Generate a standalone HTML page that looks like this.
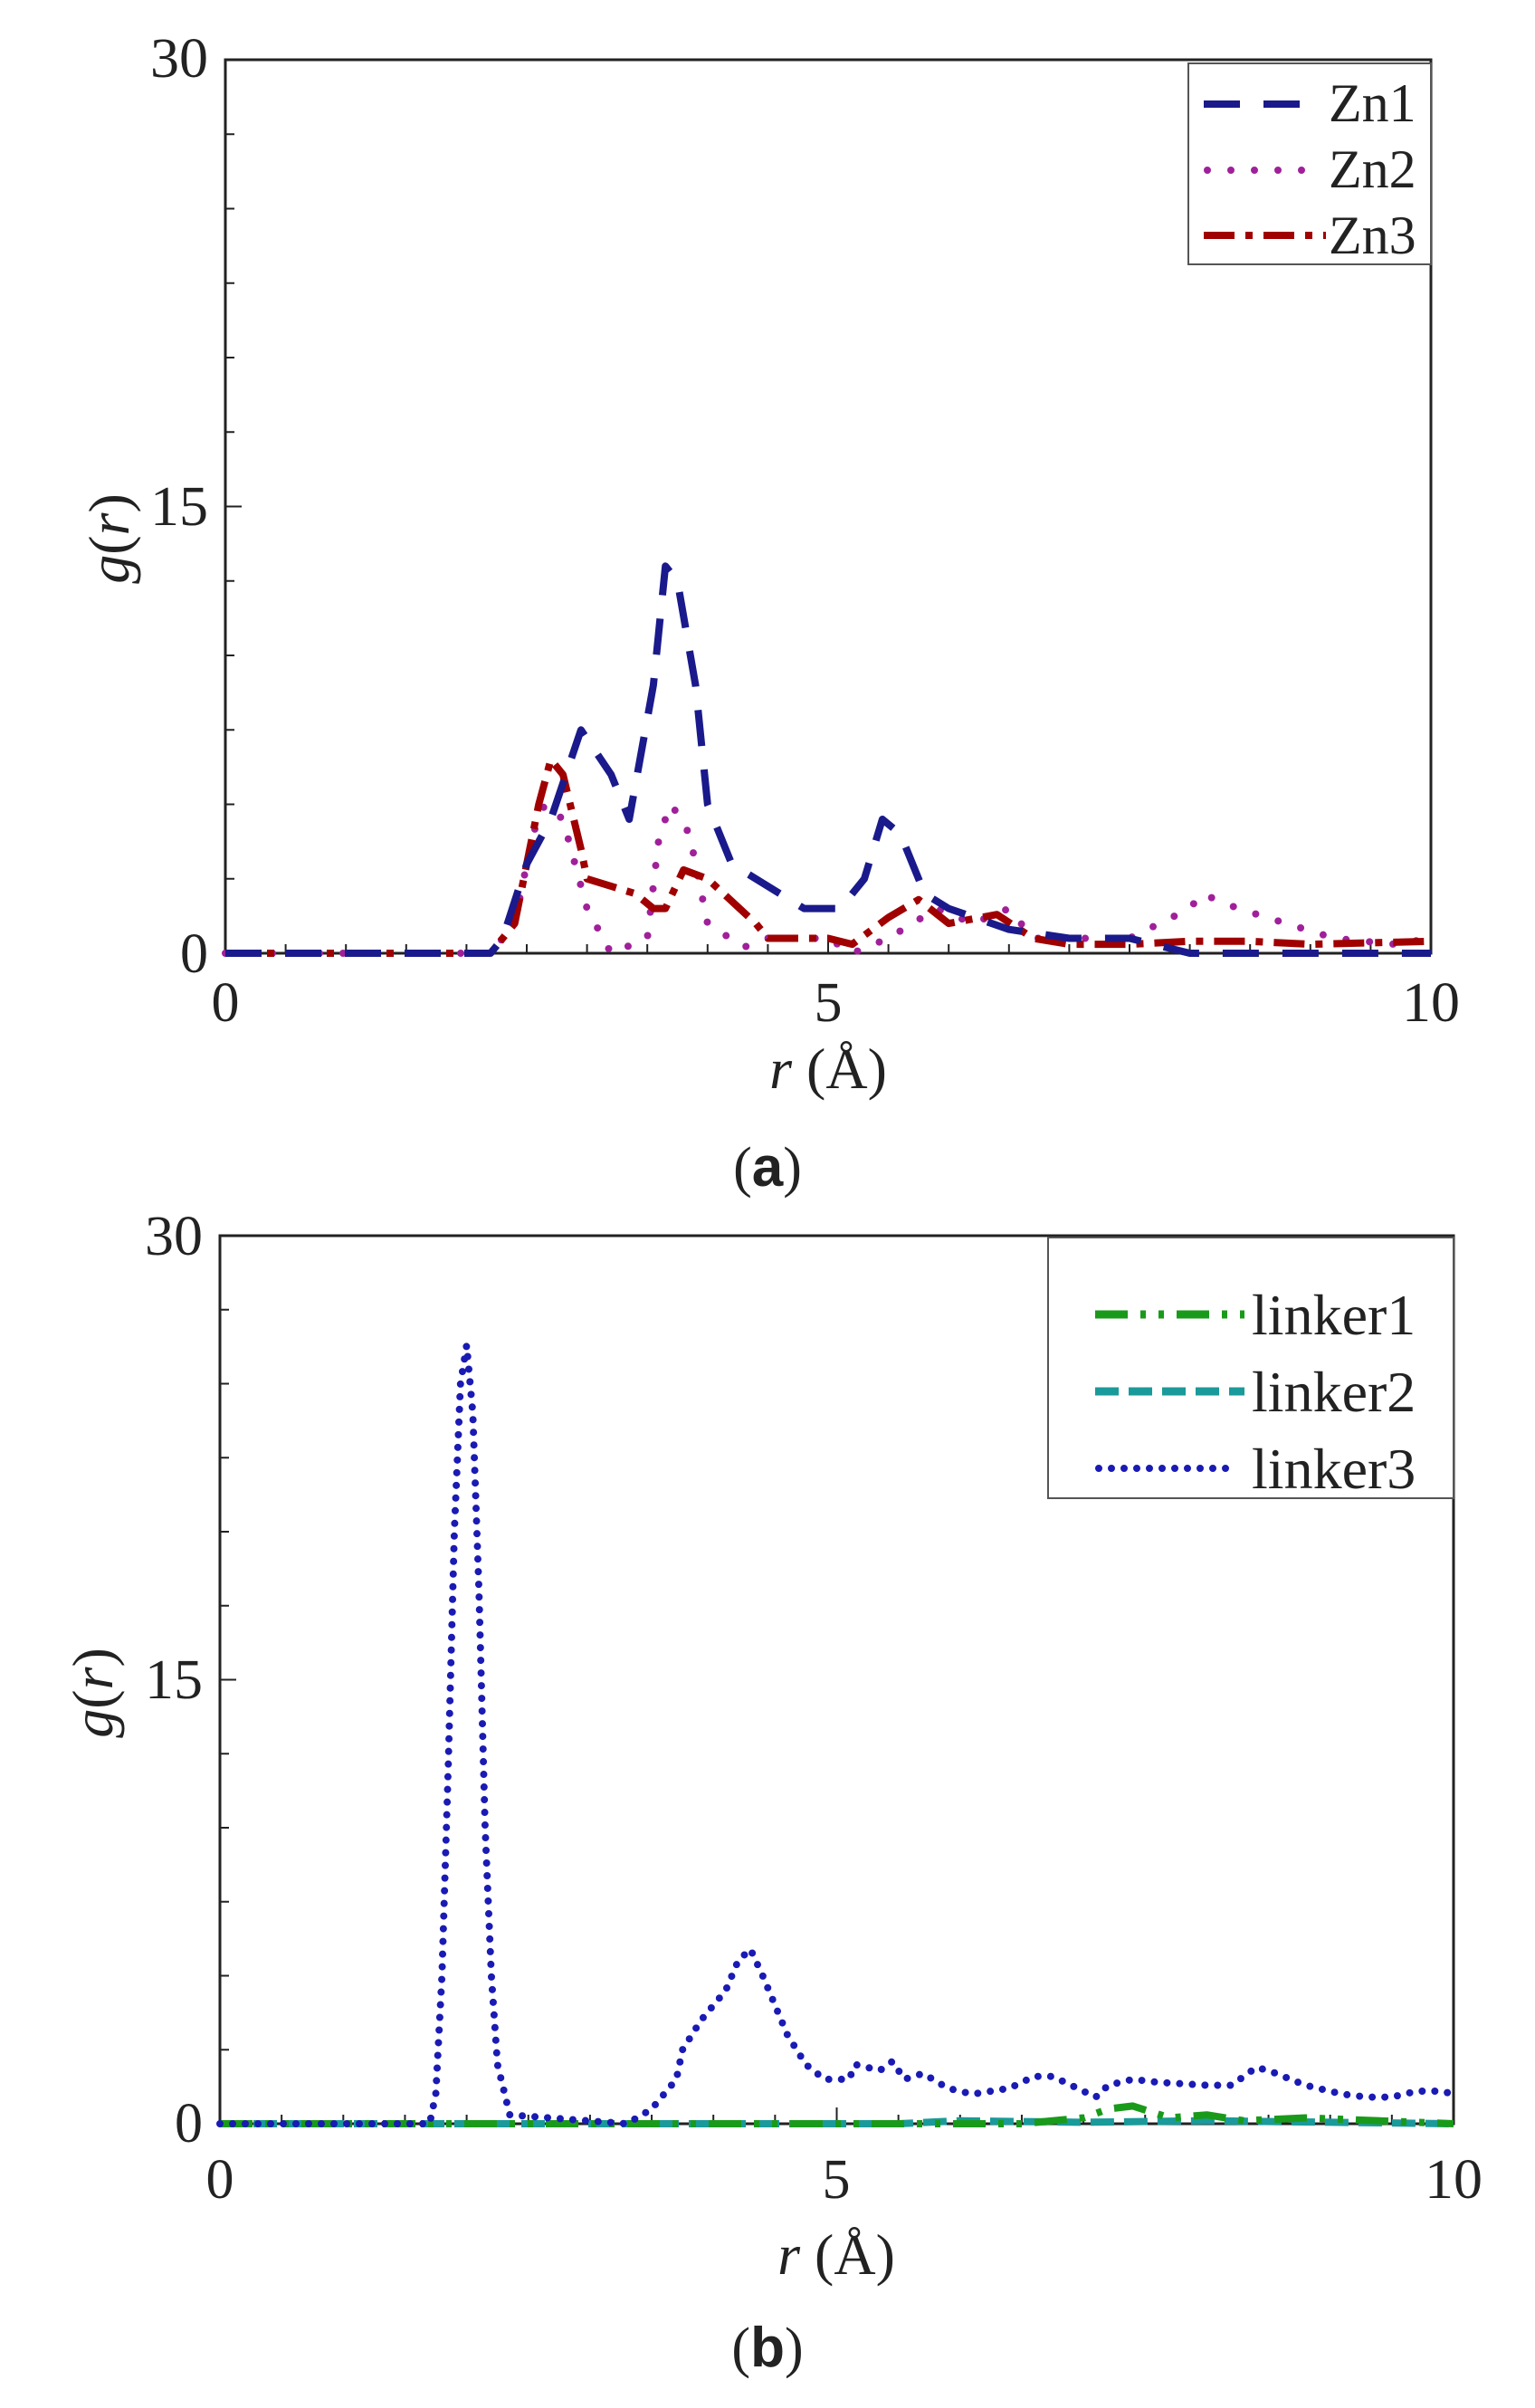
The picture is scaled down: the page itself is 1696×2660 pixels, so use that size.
<!DOCTYPE html>
<html><head><meta charset="utf-8"><style>
html,body{margin:0;padding:0;background:#fff;}
svg{display:block;}
text{font-family:"Liberation Serif",serif;fill:#222;}
</style></head><body>
<svg id="s" width="1696" height="2660" viewBox="0 0 1696 2660" xmlns="http://www.w3.org/2000/svg">
<g id="a"></g>
<text x="230" y="85" font-size="62" text-anchor="end" textLength="64" lengthAdjust="spacingAndGlyphs">30</text>
<text x="230" y="580" font-size="62" text-anchor="end" textLength="64" lengthAdjust="spacingAndGlyphs">15</text>
<text x="230" y="1074" font-size="62" text-anchor="end">0</text>
<text x="249" y="1128" font-size="62" text-anchor="middle">0</text>
<text x="915" y="1128" font-size="62" text-anchor="middle">5</text>
<text x="1581" y="1128" font-size="62" text-anchor="middle" textLength="64" lengthAdjust="spacingAndGlyphs">10</text>
<text transform="translate(142,595) rotate(-90)" font-size="64" text-anchor="middle"><tspan font-style="italic">g</tspan>(<tspan font-style="italic">r</tspan>)</text>
<text x="915" y="1202" font-size="64" text-anchor="middle"><tspan font-style="italic">r</tspan> (Å)</text>
<text x="848" y="1310" font-size="62" text-anchor="middle">(<tspan font-weight="bold" style="font-family:'Liberation Sans',sans-serif">a</tspan>)</text>
<text x="224" y="1386" font-size="62" text-anchor="end" textLength="64" lengthAdjust="spacingAndGlyphs">30</text>
<text x="224" y="1876" font-size="62" text-anchor="end" textLength="64" lengthAdjust="spacingAndGlyphs">15</text>
<text x="224" y="2366" font-size="62" text-anchor="end">0</text>
<text x="243" y="2428" font-size="62" text-anchor="middle">0</text>
<text x="924" y="2428" font-size="62" text-anchor="middle">5</text>
<text x="1606" y="2428" font-size="62" text-anchor="middle" textLength="64" lengthAdjust="spacingAndGlyphs">10</text>
<text transform="translate(124,1870) rotate(-90)" font-size="64" text-anchor="middle"><tspan font-style="italic">g</tspan>(<tspan font-style="italic">r</tspan>)</text>
<text x="924" y="2512" font-size="64" text-anchor="middle"><tspan font-style="italic">r</tspan> (Å)</text>
<text x="848" y="2614" font-size="62" text-anchor="middle">(<tspan font-weight="bold" style="font-family:'Liberation Sans',sans-serif">b</tspan>)</text>
<rect x="1313" y="70" width="268" height="222" fill="#fff" stroke="#555" stroke-width="2"/>
<line x1="1330" y1="115" x2="1460" y2="115" stroke="#1a1a8c" stroke-width="8" stroke-dasharray="40,26"/>
<line x1="1334" y1="188" x2="1460" y2="188" stroke="#a0209a" stroke-width="8" stroke-linecap="round" stroke-dasharray="0,26"/>
<line x1="1330" y1="260" x2="1465" y2="260" stroke="#a00000" stroke-width="8" stroke-dasharray="34,12,8,12"/>
<text x="1468" y="134" font-size="60">Zn1</text>
<text x="1468" y="207" font-size="60">Zn2</text>
<text x="1468" y="280" font-size="60">Zn3</text>
<rect x="1158" y="1367" width="448" height="288" fill="#fff" stroke="#555" stroke-width="2"/>
<line x1="1210" y1="1452" x2="1375" y2="1452" stroke="#1a9a1a" stroke-width="9" stroke-dasharray="36,14,6,14,6,14"/>
<line x1="1210" y1="1537" x2="1375" y2="1537" stroke="#1a9a9a" stroke-width="9" stroke-dasharray="26,11"/>
<line x1="1214" y1="1622" x2="1365" y2="1622" stroke="#1a1ab4" stroke-width="8" stroke-linecap="round" stroke-dasharray="0,14"/>
<text x="1383" y="1474" font-size="64">linker1</text>
<text x="1383" y="1559" font-size="64">linker2</text>
<text x="1383" y="1644" font-size="64">linker3</text>
</svg>
<script>
var NS="http://www.w3.org/2000/svg",g=document.getElementById('a');
function el(t,at){var e=document.createElementNS(NS,t);for(var k in at)e.setAttribute(k,at[k]);g.appendChild(e);return e;}
function plot(P,series){
 var X=function(r){return P.x0+(P.x1-P.x0)*r/10},Y=function(v){return P.y0-(P.y0-P.y1)*v/30};
 el('rect',{x:P.x0,y:P.y1,width:P.x1-P.x0,height:P.y0-P.y1,fill:'none',stroke:'#222','stroke-width':3});
 for(var i=0;i<=20;i++){var x=X(i*0.5);var L=i%10==0?18:10;el('line',{x1:x,y1:P.y0,x2:x,y2:P.y0-L,stroke:'#222','stroke-width':2});}
 for(var i=0;i<=12;i++){var y=Y(i*2.5);var L=i%6==0?18:10;el('line',{x1:P.x0,y1:y,x2:P.x0+L,y2:y,stroke:'#222','stroke-width':2});}
 series.forEach(function(s){
  var d=s.pts.map(function(p,i){return (i?'L':'M')+X(p[0]).toFixed(1)+','+Y(p[1]).toFixed(1)}).join('');
  el('path',{d:d,fill:'none',stroke:s.c,'stroke-width':s.w,'stroke-dasharray':s.da,'stroke-linecap':s.cap||'butt','stroke-linejoin':'round'});
 });
}
plot({x0:249,x1:1581,y0:1053,y1:66},[
 {c:'#a0209a',w:8,cap:'round',da:'0,26',pts:[[0,0],[2.2,0],[2.4,1],[2.55,4],[2.65,5],[2.8,4.5],[3.0,1.5],[3.2,0],[3.5,0.5],[3.6,4],[3.7,5],[3.85,4],[4.0,1],[4.3,0.2],[4.5,0.5],[5,0.5],[5.2,0],[5.5,0.5],[5.9,1.5],[6.2,1],[6.5,1.5],[6.7,0.5],[7.5,0.5],[8,1.5],[8.1,2],[8.4,1.5],[8.8,1],[9.2,0.5],[9.7,0.3],[10,0.5]]},
 {c:'#a00000',w:8,da:'34,12,8,12',pts:[[0,0],[2.2,0],[2.4,1],[2.6,5],[2.7,6.5],[2.8,6],[2.95,3.5],[3.0,2.5],[3.4,2],[3.55,1.5],[3.65,1.5],[3.8,2.8],[4.0,2.5],[4.4,1],[4.5,0.5],[5,0.5],[5.2,0.3],[5.5,1.2],[5.75,1.8],[6,1],[6.4,1.3],[6.7,0.5],[7,0.3],[7.5,0.3],[8,0.4],[8.5,0.4],[9,0.3],[10,0.4]]},
 {c:'#1a1a8c',w:8,da:'40,26',pts:[[0,0],[2.2,0],[2.3,0.5],[2.5,3],[2.7,4.5],[2.95,7.5],[3.2,6],[3.35,4.5],[3.55,9],[3.65,13],[3.75,12.5],[3.9,9],[4.0,5],[4.2,3],[4.6,2],[4.8,1.5],[5.1,1.5],[5.3,2.5],[5.45,4.5],[5.6,4],[5.8,2],[6,1.5],[6.5,0.8],[7,0.5],[7.5,0.5],[8,0],[9,0],[10,0]]}
]);
plot({x0:243,x1:1606,y0:2346,y1:1365},[
 {c:'#1a9a9a',w:8,da:'26,11',pts:[[0,0],[5.5,0],[6,0.1],[7,0.05],[8,0.1],[10,0]]},
 {c:'#1a9a1a',w:8,da:'36,14,6,14,6,14',pts:[[0,0],[6.5,0],[7,0.2],[7.2,0.5],[7.4,0.6],[7.7,0.2],[8,0.3],[8.3,0.1],[8.8,0.2],[10,0]]},
 {c:'#1a1ab4',w:8,cap:'round',da:'0,14',pts:[[0,0],[1.7,0],[1.75,1],[1.8,5],[1.85,12],[1.9,20],[1.95,25],[2.0,26.3],[2.05,24],[2.1,18],[2.15,10],[2.2,5],[2.25,2],[2.35,0.3],[3.3,0],[3.5,0.5],[3.7,1.5],[3.75,2.5],[3.9,3.5],[4.1,4.5],[4.2,5.5],[4.3,5.9],[4.4,5],[4.6,3],[4.75,2],[4.9,1.5],[5.1,1.5],[5.15,2],[5.35,1.8],[5.45,2.1],[5.55,1.5],[5.7,1.7],[5.9,1.2],[6.1,1],[6.4,1.2],[6.6,1.6],[6.75,1.6],[6.9,1.3],[7.1,0.9],[7.2,1.3],[7.4,1.5],[7.6,1.4],[8.0,1.3],[8.2,1.3],[8.4,1.9],[8.5,1.8],[8.8,1.3],[9.1,1.0],[9.3,0.9],[9.5,0.9],[9.7,1.1],[9.9,1.1],[10,1.0]]}
]);
</script>
</body></html>
